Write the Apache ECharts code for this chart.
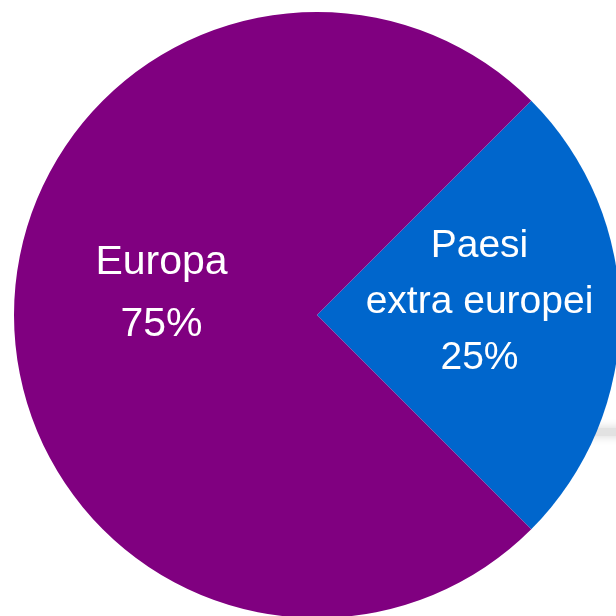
<!DOCTYPE html>
<html>
<head>
<meta charset="utf-8">
<script src="https://cdn.jsdelivr.net/npm/echarts@6/dist/echarts.min.js"></script>
<style>
html,body{margin:0;padding:0;background:#fff;}
#c{width:616px;height:616px;}
</style>
</head>
<body>
<div id="c"></div>
<script>
const categories = ['Paesi\nextra europei', 'Europa'];
const values = [25, 75];
const colors = ['#0066CC', '#800080'];

const chart = echarts.init(document.getElementById('c'), null, {renderer: 'canvas'});
const FONT = '"Liberation Sans Narrow", "Arial Narrow", "Liberation Sans", Arial, sans-serif';

chart.setOption({
  animation: false,
  backgroundColor: '#ffffff',
  graphic: [{
    type: 'rect',
    shape: {x: 585, y: 428, width: 40, height: 8, r: 4},
    style: {fill: '#e2e2e2', shadowBlur: 10, shadowColor: 'rgba(0,0,0,0.18)'},
    z: 0
  }],
  series: [{
    type: 'pie',
    center: [317, 315],
    radius: [0, 303],
    startAngle: 45,
    clockwise: true,
    silent: true,
    labelLine: {show: false},
    data: categories.map((c, i) => ({
      name: c,
      value: values[i],
      itemStyle: {color: colors[i]},
      label: i === 0
        ? {fontSize: 39, lineHeight: 56, offset: [8, -13]}
        : {fontSize: 41, lineHeight: 62, offset: [-1, -21]}
    })),
    label: {
      show: true,
      position: 'inside',
      color: '#ffffff',
      fontFamily: FONT,
      formatter: p => p.name + '\n' + p.value + '%',
      align: 'center'
    },
    z: 2
  }]
});
</script>
</body>
</html>
